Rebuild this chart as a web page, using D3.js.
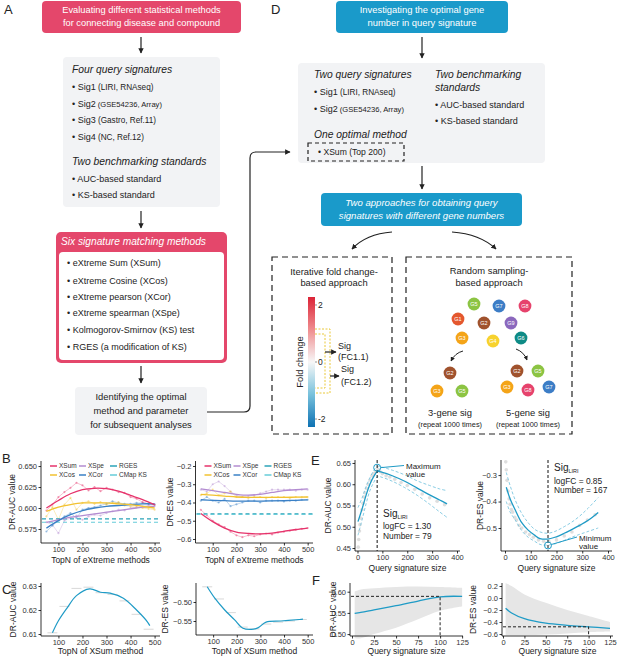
<!DOCTYPE html>
<html>
<head>
<meta charset="utf-8">
<script src="https://cdn.jsdelivr.net/npm/d3@7"></script>
<style>
body { margin: 0; background: #fff; }
svg { font-family: "Liberation Sans", Arial, sans-serif; }
.axis path, .axis line { stroke: #000; stroke-width: 0.8; }
.axis text { font-size: 7.5px; fill: #333; font-family: "Liberation Sans", Arial, sans-serif; }
</style>
</head>
<body>
<svg id="fig" width="617" height="657"></svg>
<script>
// ---------- data ----------
var topN = [50,75,100,125,150,175,200,225,250,275,300,325,350,375,400,425,450,475,500];
var fitN = [50,100,150,200,250,300,350,400,450,500];

// B left: DR-AUC
var aucXSum = [0.597,0.604,0.613,0.619,0.624,0.630,0.627,0.621,0.625,0.620,0.624,0.622,0.619,0.618,0.613,0.611,0.607,0.605,0.604];
var aucXCos = [0.590,0.601,0.586,0.604,0.612,0.598,0.606,0.608,0.605,0.607,0.604,0.606,0.607,0.603,0.602,0.601,0.600,0.599,0.598];
var aucXCor = [0.572,0.579,0.585,0.590,0.594,0.588,0.598,0.600,0.601,0.603,0.605,0.608,0.606,0.605,0.605,0.606,0.606,0.605,0.604];
var aucXSpe = [0.583,0.580,0.570,0.585,0.588,0.591,0.586,0.590,0.592,0.591,0.594,0.596,0.598,0.597,0.600,0.601,0.602,0.603,0.602];
var aucXSumFit = [0.600,0.609,0.617,0.622,0.6235,0.623,0.620,0.615,0.610,0.604];
var aucXCosFit = [0.596,0.601,0.604,0.606,0.606,0.606,0.605,0.604,0.602,0.600];
var aucXCorFit = [0.576,0.585,0.592,0.597,0.600,0.602,0.603,0.604,0.605,0.605];
var aucXSpeFit = [0.583,0.586,0.589,0.591,0.593,0.595,0.597,0.599,0.601,0.602];
var aucRGES = 0.587, aucCMap = 0.583;

// B right: DR-ES
var esXSum = [-0.44,-0.47,-0.50,-0.52,-0.535,-0.56,-0.58,-0.59,-0.58,-0.585,-0.575,-0.57,-0.575,-0.565,-0.56,-0.555,-0.55,-0.545,-0.54];
var esXSpe = [-0.33,-0.34,-0.30,-0.285,-0.31,-0.34,-0.36,-0.37,-0.365,-0.36,-0.35,-0.34,-0.33,-0.33,-0.33,-0.33,-0.335,-0.33,-0.33];
var esXCos = [-0.36,-0.35,-0.33,-0.36,-0.35,-0.34,-0.37,-0.37,-0.375,-0.37,-0.37,-0.375,-0.37,-0.37,-0.37,-0.375,-0.37,-0.37,-0.37];
var esXCor = [-0.39,-0.37,-0.39,-0.40,-0.38,-0.42,-0.41,-0.40,-0.39,-0.39,-0.40,-0.39,-0.39,-0.39,-0.395,-0.39,-0.39,-0.385,-0.385];
var esXSumFit = [-0.46,-0.505,-0.54,-0.562,-0.57,-0.572,-0.568,-0.558,-0.548,-0.54];
var esXSpeFit = [-0.325,-0.335,-0.345,-0.355,-0.36,-0.355,-0.345,-0.335,-0.33,-0.325];
var esXCosFit = [-0.355,-0.36,-0.365,-0.37,-0.372,-0.372,-0.372,-0.372,-0.371,-0.37];
var esXCorFit = [-0.385,-0.388,-0.39,-0.392,-0.392,-0.392,-0.391,-0.39,-0.388,-0.386];
var esRGES = -0.462, esCMap = -0.466;

// C: XSum only
var cRawN = [75,125,175,225,275,325,375,425,475];
var cAucRaw = [0.6105,0.6215,0.6290,0.6295,0.6272,0.6265,0.6238,0.6182,0.6120];
var cEsRaw = [-0.46,-0.492,-0.528,-0.566,-0.571,-0.558,-0.553,-0.550,-0.546];
var cAucN = [75,100,135,175,230,275,315,370,425,470,480];
var cAucFit = [0.6105,0.6155,0.6207,0.6260,0.6288,0.6274,0.6270,0.6249,0.6200,0.6151,0.6135];
var cEsN = [75,107,149,191,226,261,289,324,387,465,480];
var cEsFit = [-0.46,-0.49,-0.521,-0.547,-0.569,-0.572,-0.568,-0.553,-0.550,-0.546,-0.545];

// E left: DR-AUC vs signature size (LIRI)
var eAucSize = [2,20,35,50,65,81,100,140,190,240,290,330,360];
var eAucFit = [0.512,0.545,0.575,0.600,0.618,0.630,0.628,0.620,0.607,0.591,0.575,0.563,0.554];
var eAucHi = [0.545,0.570,0.595,0.615,0.632,0.642,0.640,0.633,0.622,0.608,0.597,0.589,0.585];
var eAucLo = [0.480,0.520,0.555,0.585,0.604,0.618,0.616,0.607,0.592,0.574,0.553,0.535,0.522];
var eAucPtsX = [3,5,8,10,14,18,22,26,30,36,42,50,58,66,74,82,90,100,115,130,150,175,200,230,260,290,320,350];
var eAucPtsY = [0.452,0.470,0.490,0.505,0.520,0.540,0.555,0.570,0.580,0.590,0.600,0.610,0.620,0.625,0.630,0.635,0.630,0.625,0.620,0.617,0.612,0.604,0.597,0.588,0.577,0.568,0.560,0.552];
var eAucBest = {size: 79, value: 0.639};

// E right: DR-ES vs signature size
var eEsSize = [5,20,40,65,90,115,136,165,194,230,259,290,323,362];
var eEsFit = [-0.346,-0.39,-0.432,-0.48,-0.508,-0.527,-0.540,-0.542,-0.535,-0.520,-0.506,-0.490,-0.471,-0.441];
var eEsHi = [-0.29,-0.34,-0.395,-0.445,-0.48,-0.505,-0.515,-0.52,-0.513,-0.495,-0.478,-0.455,-0.425,-0.385];
var eEsLo = [-0.40,-0.44,-0.47,-0.51,-0.535,-0.55,-0.562,-0.565,-0.56,-0.547,-0.535,-0.524,-0.513,-0.50];
var eEsPtsX = [3,5,8,12,16,20,25,30,38,45,55,65,80,95,110,130,150,170,200,230,260,290,320,350];
var eEsPtsY = [-0.25,-0.28,-0.32,-0.36,-0.39,-0.41,-0.43,-0.44,-0.46,-0.47,-0.49,-0.50,-0.515,-0.525,-0.535,-0.545,-0.55,-0.55,-0.545,-0.53,-0.515,-0.49,-0.47,-0.45];
var eEsBest = {size: 167, value: -0.566};

// F: random sampling
var fSize = [3,10,25,50,75,100,125];
var fAucMean = [0.549,0.551,0.557,0.567,0.578,0.588,0.589];
var fAucHi = [0.600,0.605,0.608,0.611,0.612,0.611,0.609];
var fAucLo = [0.490,0.490,0.500,0.515,0.535,0.555,0.565];
var fEsMean = [-0.17,-0.25,-0.345,-0.42,-0.455,-0.48,-0.505];
var fEsHi = [0.25,0.20,0.06,-0.08,-0.20,-0.30,-0.40];
var fEsLo = [-0.62,-0.62,-0.62,-0.61,-0.59,-0.57,-0.56];
var fAucCut = 0.589, fEsCut = -0.48;

// colour bar ticks and genes of the schematic
var fcTicks = [2, 0, -2];
var geneColor = {G1:"#E4572E",G2:"#A0522D",G3:"#F4A418",G4:"#F7D22E",G5:"#8CC443",G6:"#0E8B86",G7:"#3C7DC6",G8:"#E6436C",G9:"#8B68BD"};

// ---------- drawing ----------
var svg = d3.select("#fig");
var RED = "#E4476B", BLUE = "#1A9ACA", PANEL = "#F2F3F5", LINE = "#1F9BC6";
var cXSum = "#E6336B", cXCos = "#F2C230", cXCor = "#3A80C6", cXSpe = "#B38CD1", cRGES = "#2BA3B8", cCMap = "#66CCD9";

var defs = svg.append("defs");
defs.append("marker").attr("id","ah").attr("viewBox","0 0 10 10").attr("refX",9).attr("refY",5)
  .attr("markerWidth",4.5).attr("markerHeight",4.5).attr("orient","auto")
  .append("path").attr("d","M0,0L10,5L0,10z").attr("fill","#222");
var grad = defs.append("linearGradient").attr("id","fc").attr("x1",0).attr("y1",0).attr("x2",0).attr("y2",1);
grad.append("stop").attr("offset","0").attr("stop-color","#DC2437");
grad.append("stop").attr("offset","0.25").attr("stop-color","#EF8C8E");
grad.append("stop").attr("offset","0.5").attr("stop-color","#F7F7F7");
grad.append("stop").attr("offset","0.75").attr("stop-color","#78C1DC");
grad.append("stop").attr("offset","1").attr("stop-color","#0E72B3");

function txt(x, y, s, size, o) {
  o = o || {};
  return svg.append("text").attr("x",x).attr("y",y).text(s)
    .style("font-size",size+"px").attr("fill",o.fill || "#222")
    .attr("text-anchor",o.anchor || "start").style("font-style",o.italic ? "italic" : "normal");
}
function bul(x, y, main, paren, size, psize) {
  var t = svg.append("text").attr("x",x).attr("y",y).style("font-size",size+"px").attr("fill","#222");
  t.append("tspan").text("\u2022 " + main);
  if (paren) t.append("tspan").text(" " + paren).style("font-size",psize+"px");
}
function arrow(x1, y1, x2, y2) {
  svg.append("line").attr("x1",x1).attr("y1",y1).attr("x2",x2).attr("y2",y2)
    .attr("stroke","#222").attr("stroke-width",1.2).attr("marker-end","url(#ah)");
}
function cpath(d, w) {
  svg.append("path").attr("d",d).attr("fill","none").attr("stroke","#222").attr("stroke-width",w || 1.2).attr("marker-end","url(#ah)");
}
function box(x, y, w, h, fill, rx) {
  return svg.append("rect").attr("x",x).attr("y",y).attr("width",w).attr("height",h).attr("rx",rx || 4).attr("fill",fill);
}
function dbox(x, y, w, h, dash) {
  svg.append("rect").attr("x",x).attr("y",y).attr("width",w).attr("height",h).attr("fill","none")
    .attr("stroke","#222").attr("stroke-width",1.2).attr("stroke-dasharray",dash || "6,4");
}

// panel letters
txt(4,14,"A",13); txt(271,14,"D",13); txt(2,463,"B",13); txt(311,465,"E",13); txt(2,594,"C",13); txt(312,585,"F",13);

// ----- A -----
box(42,1,199,32,RED,4);
txt(141.5,13,"Evaluating different statistical methods",9.3,{fill:"#fff",anchor:"middle"});
txt(141.5,26,"for connecting disease and compound",9.3,{fill:"#fff",anchor:"middle"});
arrow(141,37,141,53);
box(63,57,157,150,PANEL,4);
txt(72,73,"Four query signatures",10.3,{italic:true});
bul(72,90,"Sig1","(LIRI, RNAseq)",9,8.2);
bul(72,107,"Sig2","(GSE54236, Array)",9,7.6);
bul(72,123,"Sig3","(Gastro, Ref.11)",9,8.2);
bul(72,140,"Sig4","(NC, Ref.12)",9,8.2);
txt(72,165,"Two benchmarking standards",10.3,{italic:true});
bul(72,182,"AUC-based standard","",9);
bul(72,198,"KS-based standard","",9);
arrow(141,211,141,228);
box(56,232,171,131,RED,5);
box(59,252,165,108,"#fff",4);
txt(61,245,"Six signature matching methods",10.2,{fill:"#fff",italic:true});
bul(67,266,"eXtreme Sum (XSum)","",9);
bul(67,284,"eXtreme Cosine (XCos)","",9);
bul(67,300,"eXtreme pearson (XCor)","",9);
bul(67,316,"eXtreme spearman (XSpe)","",9);
bul(67,333,"Kolmogorov-Smirnov (KS) test","",9);
bul(67,350,"RGES (a modification of KS)","",9);
arrow(141,366,141,383);
box(75,387,132,48,PANEL,4);
txt(141,400,"Identifying the optimal",9.4,{anchor:"middle"});
txt(141,414,"method and parameter",9.4,{anchor:"middle"});
txt(141,428,"for subsequent analyses",9.4,{anchor:"middle"});
cpath("M207,412H244Q250,412 250,406V158Q250,152 256,152H290");

// ----- D -----
box(336,1,172,32,BLUE,4);
txt(422,13,"Investigating the optimal gene",9.4,{fill:"#fff",anchor:"middle"});
txt(422,26,"number in query signature",9.4,{fill:"#fff",anchor:"middle"});
arrow(422,37,422,58);
box(298,63,247,100,PANEL,4);
txt(314,78,"Two query signatures",10.3,{italic:true});
bul(314,95,"Sig1","(LIRI, RNAseq)",9,8.2);
bul(314,112,"Sig2","(GSE54236, Array)",9,7.6);
txt(314,138,"One optimal method",10.3,{italic:true});
dbox(308,143,96,18,"4,3");
bul(318,155,"XSum (Top 200)","",8.6);
txt(435,78,"Two benchmarking",10.3,{italic:true});
txt(435,91,"standards",10.3,{italic:true});
bul(435,108,"AUC-based standard","",9);
bul(435,124,"KS-based standard","",9);
arrow(422,166,422,189);
box(321,193,201,33,BLUE,4);
txt(421.5,206,"Two approaches for obtaining query",9.6,{fill:"#fff",anchor:"middle",italic:true});
txt(421.5,219,"signatures with different gene numbers",9.6,{fill:"#fff",anchor:"middle",italic:true});
cpath("M392,232Q366,234 352,249");
cpath("M452,232Q480,234 496,249");
dbox(272,257,120,177);
dbox(406,257,166,177);
txt(334,275,"Iterative fold change-",9.4,{anchor:"middle"});
txt(334,286,"based approach",9.4,{anchor:"middle"});
txt(489,274,"Random sampling-",9.4,{anchor:"middle"});
txt(489,286,"based approach",9.4,{anchor:"middle"});

// colour bar
var fc = d3.scaleLinear().domain([-2.28, 2.28]).range([427, 297]);
svg.append("rect").attr("x",308).attr("y",fc(2.28)).attr("width",7).attr("height",fc(-2.28)-fc(2.28)).attr("fill","url(#fc)");
svg.selectAll(".fct").data(fcTicks).enter().append("line")
  .attr("x1",315).attr("x2",317).attr("y1",function(d){return fc(d);}).attr("y2",function(d){return fc(d);})
  .attr("stroke","#666").attr("stroke-width",0.7);
svg.selectAll(".fcl").data(fcTicks).enter().append("text")
  .attr("x",318).attr("y",function(d){return fc(d);}).attr("dy","0.35em")
  .text(function(d){return d;}).style("font-size","8.5px").attr("fill","#222");
svg.append("text").attr("transform","translate(300,362) rotate(-90)").attr("text-anchor","middle")
  .attr("dy","0.35em").text("Fold change").style("font-size","9.4px").attr("fill","#222");
svg.append("path").attr("d","M315,329H330V393H315").attr("fill","none").attr("stroke","#E9C83A").attr("stroke-width",1).attr("stroke-dasharray","2,1.5");
svg.append("path").attr("d","M315,334H325V388H315").attr("fill","none").attr("stroke","#E9C83A").attr("stroke-width",1).attr("stroke-dasharray","2,1.5");
arrow(325,352,336,352);
arrow(330,376,339,376);
txt(338,349,"Sig",9); txt(338,360,"(FC1.1)",9);
txt(341,372,"Sig",9); txt(341,385,"(FC1.2)",9);

// genes
var genes = [
  ["G5",474,304],["G7",499,306],["G8",525,306],["G1",458,319],["G2",484,323],["G9",511,323],
  ["G3",462,338],["G4",493,341],["G6",521,338],
  ["G2",450,373],["G3",437,391],["G5",462,391],
  ["G2",517,371],["G5",538,371],["G3",507,387],["G8",528,390],["G7",549,387]
];
var gg = svg.selectAll(".gene").data(genes).enter().append("g")
  .attr("transform",function(d){return "translate("+d[1]+","+d[2]+")";});
gg.append("circle").attr("r",6.4).attr("fill",function(d){return geneColor[d[0]];});
gg.append("text").attr("text-anchor","middle").attr("dy","0.35em").text(function(d){return d[0];})
  .style("font-size","5.5px").attr("fill","#fff");
cpath("M463,351Q455,353 451,361",1);
cpath("M516,349Q524,352 527,360",1);
txt(450,416,"3-gene sig",9.4,{anchor:"middle"});
txt(450,427,"(repeat 1000 times)",7.4,{anchor:"middle"});
txt(528,416,"5-gene sig",9.4,{anchor:"middle"});
txt(528,427,"(repeat 1000 times)",7.4,{anchor:"middle"});

// ---------- chart helper ----------
function chart(o) {
  var x = d3.scaleLinear().domain(o.xd).range([o.l, o.r]);
  var y = d3.scaleLinear().domain(o.yd).range([o.b, o.t]);
  var g = svg.append("g");
  var ax = g.append("g").attr("class","axis").attr("transform","translate(0,"+o.b+")")
    .call(d3.axisBottom(x).tickValues(o.xt).tickSize(2.5).tickPadding(1.5).tickFormat(d3.format("d")));
  ax.select(".domain").attr("d","M"+o.l+",0H"+o.r);
  var ay = g.append("g").attr("class","axis").attr("transform","translate("+o.l+",0)")
    .call(d3.axisLeft(y).tickValues(o.yt).tickSize(2.5).tickPadding(1.5).tickFormat(d3.format(o.yf)));
  ay.select(".domain").attr("d","M0,"+o.t+"V"+o.b);
  g.append("text").attr("x",(o.l+o.r)/2).attr("y",o.b+(o.xtt || 20)).attr("text-anchor","middle")
    .text(o.xtitle).style("font-size","8.5px").attr("fill","#222");
  g.append("text").attr("transform","translate("+o.ytx+","+((o.t+o.b)/2+(o.yty || 0))+") rotate(-90)")
    .attr("text-anchor","middle").attr("dy","0.35em").text(o.ytitle).style("font-size","8.5px").attr("fill","#222");
  return {x:x, y:y, g:g, o:o};
}
function drawLine(c, xs, ys, color, w, dash, op, curve) {
  var ln = d3.line().x(function(d,i){return c.x(xs[i]);}).y(function(d){return c.y(d);}).curve(curve || d3.curveCatmullRom);
  c.g.append("path").attr("d",ln(ys)).attr("fill","none").attr("stroke",color).attr("stroke-width",w)
    .attr("stroke-dasharray",dash || null).attr("opacity",op == null ? 1 : op);
}
function drawRaw(c, xs, ys, color) {
  drawLine(c, xs, ys, color, 0.8, null, 0.4, d3.curveLinear);
  c.g.selectAll(null).data(ys).enter().append("circle")
    .attr("cx",function(d,i){return c.x(xs[i]);}).attr("cy",function(d){return c.y(d);})
    .attr("r",1.1).attr("fill",color).attr("opacity",0.45);
}
function hline(c, v, color, dash) {
  c.g.append("line").attr("x1",c.x(c.o.xd[0])+1).attr("x2",c.x(c.o.xd[1])).attr("y1",c.y(v)).attr("y2",c.y(v))
    .attr("stroke",color).attr("stroke-width",1.1).attr("stroke-dasharray",dash);
}
function legend(c) {
  var items = [["XSum",cXSum],["XSpe",cXSpe],["RGES",cRGES],["XCos",cXCos],["XCor",cXCor],["CMap KS",cCMap]];
  var colX = [9, 38, 69];
  items.forEach(function(it, i) {
    var lx = c.o.l + colX[i % 3], ly = c.o.t + 5 + Math.floor(i / 3) * 9;
    c.g.append("line").attr("x1",lx).attr("x2",lx+7).attr("y1",ly).attr("y2",ly).attr("stroke",it[1]).attr("stroke-width",1.5);
    c.g.append("text").attr("x",lx+9).attr("y",ly).attr("dy","0.35em").text(it[0]).style("font-size","6.5px").attr("fill","#333");
  });
}

// ----- B -----
var b1 = chart({l:41,r:160,t:461,b:543,xd:[27.5,522.5],yd:[0.5583,0.656],xt:[100,200,300,400,500],
  yt:[0.575,0.600,0.625,0.650],yf:".3f",xtitle:"TopN of eXtreme methods",ytitle:"DR-AUC value",ytx:12,xtt:20});
drawRaw(b1, topN, aucXSpe, cXSpe); drawRaw(b1, topN, aucXCor, cXCor);
drawRaw(b1, topN, aucXCos, cXCos); drawRaw(b1, topN, aucXSum, cXSum);
hline(b1, aucRGES, cRGES, "4,3"); hline(b1, aucCMap, cCMap, "4,3");
drawLine(b1, fitN, aucXSpeFit, cXSpe, 1.3); drawLine(b1, fitN, aucXCorFit, cXCor, 1.3);
drawLine(b1, fitN, aucXCosFit, cXCos, 1.3); drawLine(b1, fitN, aucXSumFit, cXSum, 1.3);
legend(b1);

var b2 = chart({l:195.5,r:313,t:461,b:543,xd:[27.5,522.5],yd:[-0.622,-0.1726],xt:[100,200,300,400,500],
  yt:[-0.6,-0.5,-0.4,-0.3,-0.2],yf:".1f",xtitle:"TopN of eXtreme methods",ytitle:"DR-ES value",ytx:170,xtt:20});
drawRaw(b2, topN, esXSpe, cXSpe); drawRaw(b2, topN, esXCor, cXCor);
drawRaw(b2, topN, esXCos, cXCos); drawRaw(b2, topN, esXSum, cXSum);
hline(b2, esRGES, cRGES, "4,3"); hline(b2, esCMap, cCMap, "4,3");
drawLine(b2, fitN, esXSpeFit, cXSpe, 1.3); drawLine(b2, fitN, esXCorFit, cXCor, 1.3);
drawLine(b2, fitN, esXCosFit, cXCos, 1.3); drawLine(b2, fitN, esXSumFit, cXSum, 1.3);
legend(b2);

// ----- C -----
function rawTicks(c, xs, ys) {
  c.g.selectAll(null).data(ys).enter().append("line")
    .attr("x1",function(d,i){return c.x(xs[i])-5;}).attr("x2",function(d,i){return c.x(xs[i])+5;})
    .attr("y1",function(d){return c.y(d);}).attr("y2",function(d){return c.y(d);})
    .attr("stroke","#D8D8D8").attr("stroke-width",1);
}
var c1 = chart({l:41,r:160,t:583,b:636,xd:[27.5,522.5],yd:[0.60917,0.63125],xt:[100,200,300,400,500],
  yt:[0.61,0.62,0.63],yf:".2f",xtitle:"TopN of XSum method",ytitle:"DR-AUC value",ytx:13,xtt:18});
rawTicks(c1, cRawN, cAucRaw);
drawLine(c1, cAucN, cAucFit, LINE, 1.2);
var c2 = chart({l:196,r:313,t:583,b:635,xd:[27.5,522.5],yd:[-0.5868,-0.45],xt:[100,200,300,400,500],
  yt:[-0.55,-0.50],yf:".2f",xtitle:"TopN of XSum method",ytitle:"DR-ES value",ytx:165,xtt:19});
rawTicks(c2, cRawN, cEsRaw);
drawLine(c2, cEsN, cEsFit, LINE, 1.2);

// ----- E -----
function pts(c, xs, ys) {
  c.g.selectAll(null).data(ys).enter().append("circle")
    .attr("cx",function(d,i){return c.x(xs[i]);}).attr("cy",function(d){return c.y(d);})
    .attr("r",1.8).attr("fill","#D6D6D6").attr("opacity",0.8);
}
function vline(c, xv, y0, y1) {
  c.g.append("line").attr("x1",c.x(xv)).attr("x2",c.x(xv)).attr("y1",y0).attr("y2",y1)
    .attr("stroke","#111").attr("stroke-width",1).attr("stroke-dasharray","3,2");
}
var e1 = chart({l:355,r:460,t:460,b:551,xd:[-10,412],yd:[0.443,0.657],xt:[0,100,200,300,400],
  yt:[0.45,0.50,0.55,0.60,0.65],yf:".2f",xtitle:"Query signature size",ytitle:"DR-AUC value",ytx:328,xtt:20});
pts(e1, eAucPtsX, eAucPtsY);
drawLine(e1, eAucSize, eAucHi, "#7CC6E0", 0.9, "3,2");
drawLine(e1, eAucSize, eAucLo, "#7CC6E0", 0.9, "3,2");
drawLine(e1, eAucSize, eAucFit, LINE, 1.3);
vline(e1, eAucBest.size, 460, 551);
e1.g.append("circle").attr("cx",e1.x(eAucBest.size)).attr("cy",e1.y(eAucBest.value)).attr("r",3.5)
  .attr("fill","none").attr("stroke",LINE).attr("stroke-width",1);
e1.g.append("line").attr("x1",e1.x(eAucBest.size)+3.5).attr("y1",e1.y(eAucBest.value)).attr("x2",404).attr("y2",465.5)
  .attr("stroke",LINE).attr("stroke-width",1);
txt(406,469,"Maximum",8); txt(406,477,"value",8);
var s1 = txt(383,517,"Sig",10); s1.append("tspan").text("LIRI").style("font-size","5.5px").attr("dy",2);
txt(383,529,"logFC = 1.30",8.4); txt(383,539,"Number = 79",8.4);

var e2 = chart({l:501,r:612,t:460,b:551,xd:[-15.5,415.5],yd:[-0.587,-0.243],xt:[0,100,200,300,400],
  yt:[-0.5,-0.4,-0.3],yf:".1f",xtitle:"Query signature size",ytitle:"DR-ES value",ytx:480,xtt:20});
pts(e2, eEsPtsX, eEsPtsY);
drawLine(e2, eEsSize, eEsHi, "#7CC6E0", 0.9, "3,2");
drawLine(e2, eEsSize, eEsLo, "#7CC6E0", 0.9, "3,2");
drawLine(e2, eEsSize, eEsFit, LINE, 1.3);
vline(e2, eEsBest.size, 460, 551);
e2.g.append("circle").attr("cx",e2.x(eEsBest.size)).attr("cy",e2.y(eEsBest.value)).attr("r",3.5)
  .attr("fill","none").attr("stroke",LINE).attr("stroke-width",1);
e2.g.append("line").attr("x1",e2.x(eEsBest.size)+3.5).attr("y1",e2.y(eEsBest.value)-1).attr("x2",577).attr("y2",537)
  .attr("stroke",LINE).attr("stroke-width",1);
txt(579,541,"Minimum",8); txt(579,549,"value",8);
var s2 = txt(554,471,"Sig",10); s2.append("tspan").text("LIRI").style("font-size","5.5px").attr("dy",2);
txt(554,484,"logFC = 0.85",8.4); txt(554,493,"Number = 167",8.4);

// ----- F -----
function band(c, xs, lo, hi) {
  var ar = d3.area().x(function(d,i){return c.x(xs[i]);}).y0(function(d,i){return c.y(lo[i]);})
    .y1(function(d){return c.y(d);}).curve(d3.curveCatmullRom);
  c.g.insert("path", ":first-child").attr("d",ar(hi)).attr("fill","#E6E6E6");
}
function cut(c, xv, v) {
  c.g.append("path").attr("d","M"+(c.o.l+1)+","+c.y(v)+"H"+c.x(xv)+"V"+c.o.b)
    .attr("fill","none").attr("stroke","#222").attr("stroke-width",1).attr("stroke-dasharray","3,2");
}
var f1 = chart({l:350,r:463,t:583,b:636,xd:[-2.3,126],yd:[0.4955,0.6205],xt:[0,25,50,75,100,125],
  yt:[0.50,0.55,0.60],yf:".2f",xtitle:"Query signature size",ytitle:"DR-AUC value",ytx:333,xtt:18});
band(f1, fSize, fAucLo, fAucHi);
drawLine(f1, fSize, fAucMean, LINE, 1.3);
cut(f1, 100, fAucCut);
var f2 = chart({l:502,r:613,t:583,b:636,xd:[-1.2,128.5],yd:[-0.633,0.25],xt:[0,25,50,75,100,125],
  yt:[-0.6,-0.4,-0.2,0.0,0.2],yf:".1f",xtitle:"Query signature size",ytitle:"DR-ES value",ytx:473,xtt:18});
band(f2, fSize, fEsLo, fEsHi);
drawLine(f2, fSize, fEsMean, LINE, 1.3);
cut(f2, 100, fEsCut);
</script>
</body>
</html>
